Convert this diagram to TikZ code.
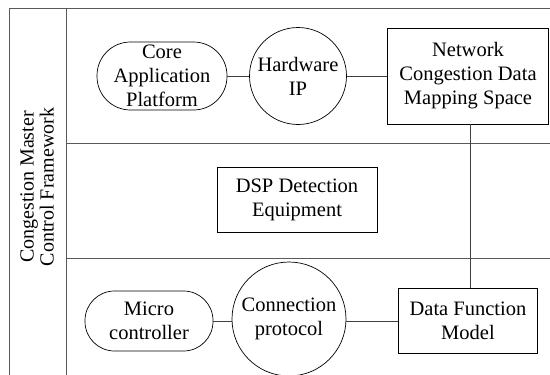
\documentclass[tikz,border=0pt]{standalone}
\usepackage{fontspec}
\setmainfont{Liberation Serif}
\begin{document}
\begin{tikzpicture}[x=1pt,y=-1pt,
  frame/.style={draw=black!65,line width=0.9pt},
  lbl/.style={align=center,font=\fontsize{20.5}{24}\selectfont,inner sep=0pt},
  stadium/.style={lbl,draw,line width=0.7pt,rectangle},
  ring/.style={lbl,draw,line width=0.7pt,circle},
  boxnode/.style={lbl,draw,line width=0.7pt,rectangle},
  link/.style={draw=black!75,line width=0.9pt}]
\useasboundingbox (0,0) rectangle (550,375);
% swimlane frame
\draw[frame] (9,375) -- (9,8) -- (550,8);
\draw[frame] (66,8) -- (66,375);
\draw[frame] (66,143) -- (550,143);
\draw[frame] (66,258) -- (550,258);
\node[rotate=90,align=center,font=\fontsize{20}{20}\selectfont,inner sep=0pt] (title) at (37,187)
  {Congestion Master\\Control Framework};
% upper lane
\node[stadium,rounded corners=33.5,minimum width=130,minimum height=68] (core) at (162,76)
  {Core\\Application\\Platform};
\node[ring,minimum size=97] (hw) at (298,76) {Hardware\\IP};
\node[boxnode,minimum width=161,minimum height=96] (net) at (468,76)
  {Network\\Congestion Data\\Mapping Space};
% middle lane
\node[boxnode,minimum width=160,minimum height=65] (dsp) at (297,200)
  {DSP Detection\\Equipment};
% lower lane
\node[stadium,rounded corners=29.5,minimum width=128,minimum height=60] (micro) at (149,321)
  {Micro\\controller};
\node[ring,minimum size=114] (conn) at (289,319) {Connection\\protocol};
\node[boxnode,minimum width=139,minimum height=65] (dfm) at (468,321)
  {Data Function\\Model};
% connectors
\draw[link] (core.east) -- (hw.west);
\draw[link] (hw.east) -- (net.west);
\draw[link] (micro.east) -- (conn.west |- micro.east);
\draw[link] (conn.east |- dfm.west) -- (dfm.west);
\draw[link] (net.south -| 470,0) -- (dfm.north -| 470,0);
\end{tikzpicture}
\end{document}
